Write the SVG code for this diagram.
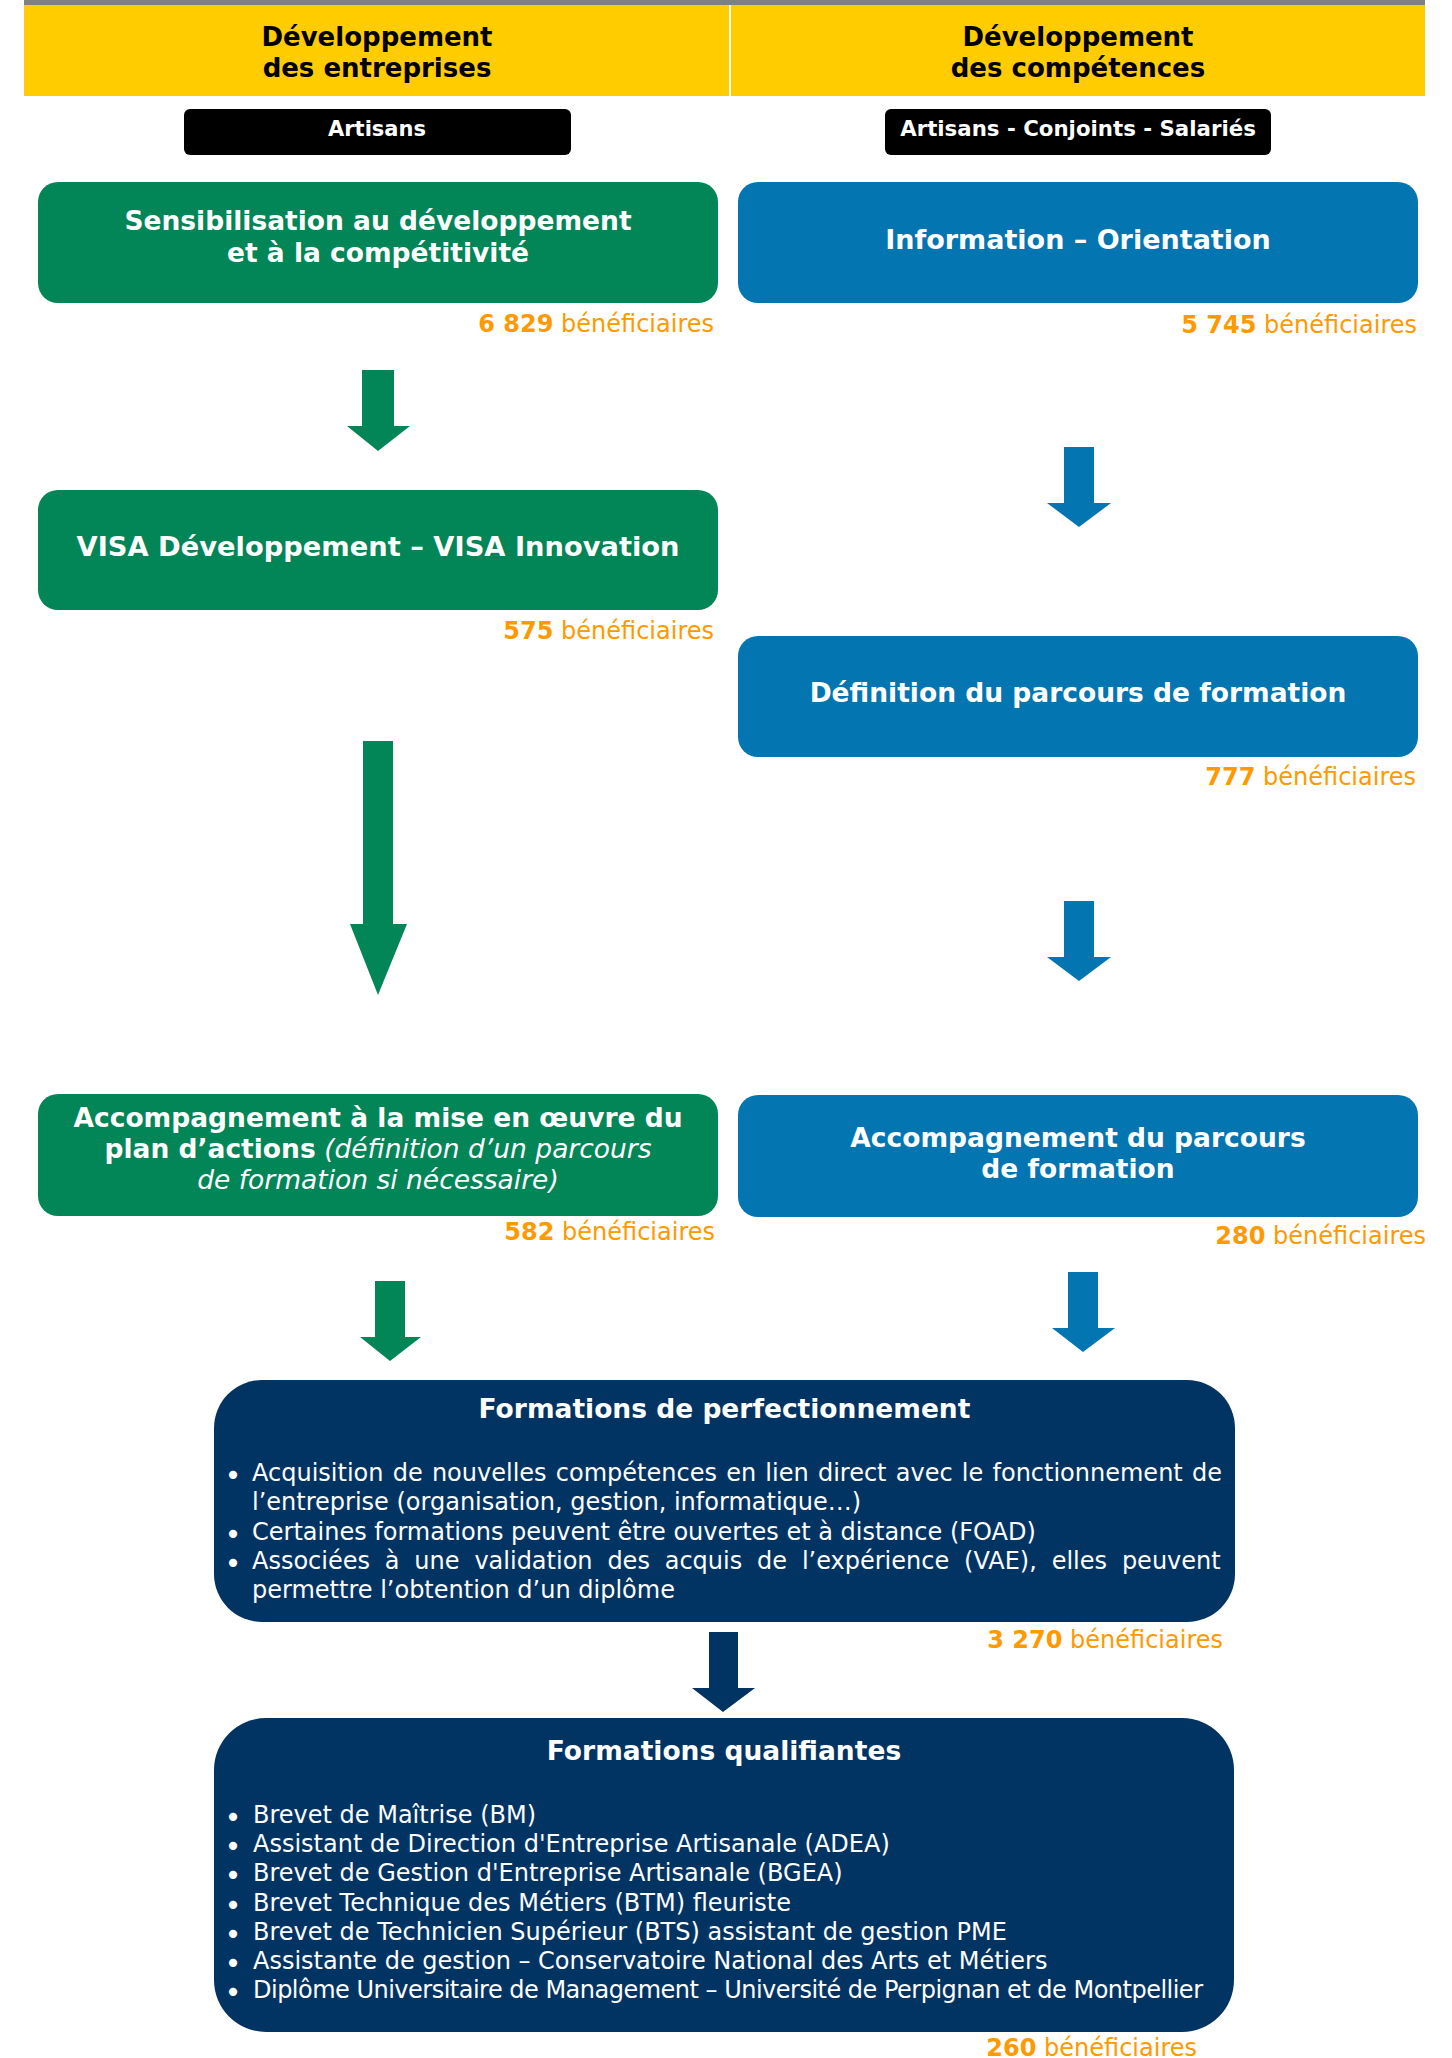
<svg xmlns="http://www.w3.org/2000/svg" width="1452" height="2058" viewBox="0 0 1452 2058">
<style>
text{font-family:"DejaVu Sans",Verdana,sans-serif;}
.hd{font-size:26px;font-weight:bold;fill:#000;text-anchor:middle}
.lab{font-size:21px;font-weight:bold;fill:#fff;text-anchor:middle}
.nt{font-size:26.5px;font-weight:bold;fill:#fff;text-anchor:middle}
.ben{font-size:24px;fill:#FF9900;text-anchor:end}
.b{font-weight:bold}
.it{font-style:italic;font-weight:normal}
.bl{font-size:24px;fill:#fff}
.dot{font-size:28px;fill:#fff;text-anchor:middle}
.green{fill:#028557}
.blue{fill:#0376B2}
.navy{fill:#023463}
</style>
<rect x="0" y="0" width="1452" height="2058" fill="#fff"/>
<g id="header">
<rect x="24" y="0" width="1401" height="5" fill="#808080"/>
<rect x="24" y="5" width="1401" height="91" fill="#FFCC00"/>
<rect x="729" y="5" width="2" height="92" fill="#fff"/>
<text class="hd" x="377" y="46">Développement</text>
<text class="hd" x="377" y="77">des entreprises</text>
<text class="hd" x="1078" y="46">Développement</text>
<text class="hd" x="1078" y="77">des compétences</text>
</g>
<g id="label-artisans">
<rect x="184" y="109" width="387" height="46" rx="6" fill="#000"/>
<text class="lab" x="377" y="136">Artisans</text>
</g>
<g id="label-artisans-conjoints-salaries">
<rect x="885" y="109" width="386" height="46" rx="6" fill="#000"/>
<text class="lab" x="1078" y="136" style="font-size:21.3px">Artisans - Conjoints - Salariés</text>
</g>
<g id="node-sensibilisation">
<rect class="green" x="38" y="182" width="680" height="121" rx="20"/>
<text class="nt" x="378" y="230">Sensibilisation au développement</text>
<text class="nt" x="378" y="262">et à la compétitivité</text>
<text class="ben" x="714" y="332"><tspan class="b">6 829</tspan> bénéficiaires</text>
</g>
<g id="node-information">
<rect class="blue" x="738" y="182" width="680" height="121" rx="20"/>
<text class="nt" x="1078" y="249" style="font-size:27px">Information – Orientation</text>
<text class="ben" x="1417" y="333"><tspan class="b">5 745</tspan> bénéficiaires</text>
</g>
<g id="node-visa">
<rect class="green" x="38" y="490" width="680" height="120" rx="20"/>
<text class="nt" x="378" y="556" style="font-size:27.3px">VISA Développement – VISA Innovation</text>
<text class="ben" x="714" y="639"><tspan class="b">575</tspan> bénéficiaires</text>
</g>
<g id="node-definition">
<rect class="blue" x="738" y="636" width="680" height="121" rx="20"/>
<text class="nt" x="1078" y="702">Définition du parcours de formation</text>
<text class="ben" x="1416" y="785"><tspan class="b">777</tspan> bénéficiaires</text>
</g>
<g id="node-accompagnement-plan">
<rect class="green" x="38" y="1094" width="680" height="122" rx="20"/>
<text class="nt" x="378" y="1127">Accompagnement à la mise en œuvre du</text>
<text class="nt" x="378" y="1158">plan d’actions<tspan class="it"> (définition d’un parcours</tspan></text>
<text class="nt it" x="378" y="1189">de formation si nécessaire)</text>
<text class="ben" x="715" y="1240"><tspan class="b">582</tspan> bénéficiaires</text>
</g>
<g id="node-accompagnement-parcours">
<rect class="blue" x="738" y="1095" width="680" height="122" rx="20"/>
<text class="nt" x="1078" y="1147">Accompagnement du parcours</text>
<text class="nt" x="1078" y="1178">de formation</text>
<text class="ben" x="1426" y="1244"><tspan class="b">280</tspan> bénéficiaires</text>
</g>
<g id="node-perfectionnement">
<rect class="navy" x="214" y="1380" width="1021" height="242" rx="48"/>
<text class="nt" x="724.5" y="1418">Formations de perfectionnement</text>
<text class="dot" x="233" y="1485">•</text>
<text class="bl" x="252" y="1481" word-spacing="1.6">Acquisition de nouvelles compétences en lien direct avec le fonctionnement de</text>
<text class="bl" x="252" y="1510">l’entreprise (organisation, gestion, informatique…)</text>
<text class="dot" x="233" y="1544">•</text>
<text class="bl" x="252" y="1540">Certaines formations peuvent être ouvertes et à distance (FOAD)</text>
<text class="dot" x="233" y="1573">•</text>
<text class="bl" x="252" y="1569" word-spacing="7.2">Associées à une validation des acquis de l’expérience (VAE), elles peuvent</text>
<text class="bl" x="252" y="1598">permettre l’obtention d’un diplôme</text>
<text class="ben" x="1223" y="1648"><tspan class="b">3 270</tspan> bénéficiaires</text>
</g>
<g id="node-qualifiantes">
<rect class="navy" x="214" y="1718" width="1020" height="314" rx="52"/>
<text class="nt" x="724" y="1760">Formations qualifiantes</text>
<text class="dot" x="233" y="1827">•</text>
<text class="bl" x="253" y="1823">Brevet de Maîtrise (BM)</text>
<text class="dot" x="233" y="1856">•</text>
<text class="bl" x="253" y="1852">Assistant de Direction d'Entreprise Artisanale (ADEA)</text>
<text class="dot" x="233" y="1885">•</text>
<text class="bl" x="253" y="1881">Brevet de Gestion d'Entreprise Artisanale (BGEA)</text>
<text class="dot" x="233" y="1915">•</text>
<text class="bl" x="253" y="1911">Brevet Technique des Métiers (BTM) fleuriste</text>
<text class="dot" x="233" y="1944">•</text>
<text class="bl" x="253" y="1940">Brevet de Technicien Supérieur (BTS) assistant de gestion PME</text>
<text class="dot" x="233" y="1973">•</text>
<text class="bl" x="253" y="1969">Assistante de gestion – Conservatoire National des Arts et Métiers</text>
<text class="dot" x="233" y="2002">•</text>
<text class="bl" x="253" y="1998" textLength="950" lengthAdjust="spacing">Diplôme Universitaire de Management – Université de Perpignan et de Montpellier</text>
<text class="ben" x="1197" y="2056"><tspan class="b">260</tspan> bénéficiaires</text>
</g>
<g id="connectors">
<polygon class="green" points="362,370 394,370 394,426 410,426 378,451 347,426 362,426"/>
<polygon class="green" points="363,741 393,741 393,924 407,924 378,995 350,924 363,924"/>
<polygon class="green" points="375,1281 405,1281 405,1337 421,1337 390,1361 360,1337 375,1337"/>
<polygon class="blue" points="1064,447 1094,447 1094,503 1111,503 1079,527 1047,503 1064,503"/>
<polygon class="blue" points="1064,901 1094,901 1094,957 1111,957 1079,981 1047,957 1064,957"/>
<polygon class="blue" points="1068,1272 1098,1272 1098,1328 1115,1328 1083,1352 1052,1328 1068,1328"/>
<polygon class="navy" points="709,1632 738,1632 738,1688 755,1688 723,1712 692,1688 709,1688"/>
</g>
</svg>
